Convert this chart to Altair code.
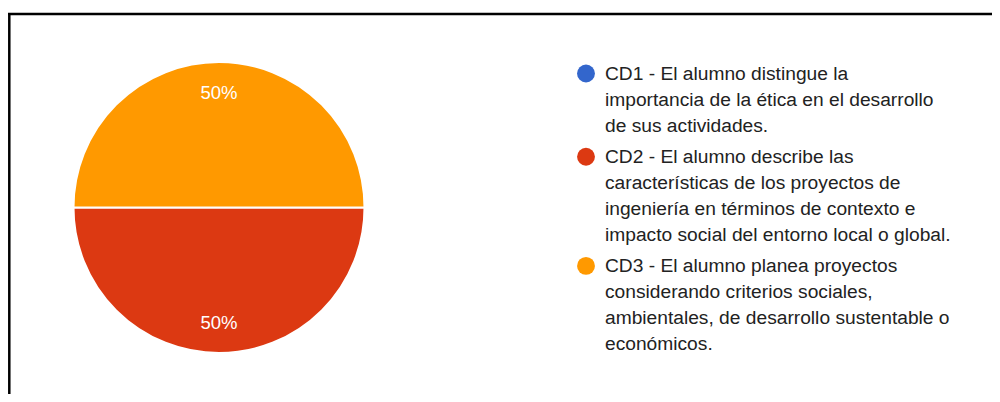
import math
import altair as alt
import pandas as pd

# ---- data ----
categories = ["CD1", "CD2", "CD3"]
percentages = [0, 50, 50]
colors = ["#3366CC", "#DC3912", "#FF9900"]
legend_lines = [
    ["CD1 - El alumno distingue la",
     "importancia de la ética en el desarrollo",
     "de sus actividades."],
    ["CD2 - El alumno describe las",
     "características de los proyectos de",
     "ingeniería en términos de contexto e",
     "impacto social del entorno local o global."],
    ["CD3 - El alumno planea proyectos",
     "considerando criterios sociales,",
     "ambientales, de desarrollo sustentable o",
     "económicos."],
]

# legend slot: cumulative line count plus a small gap between entries
slots = []
acc = 0
for i, lines in enumerate(legend_lines):
    slots.append(acc + i * 0.2)
    acc += len(lines)

df = pd.DataFrame({
    "category": categories,
    "value": percentages,
    "idx": list(range(len(categories))),
    "label": ["\n".join(l) for l in legend_lines],
    "slot": slots,
})

W, H = 984, 386
CX, CY, R = 211, 199.5, 145.5
FONT = "Liberation Sans"

color = alt.Color("category:N", scale=alt.Scale(domain=categories, range=colors), legend=None)
theta = alt.Theta("value:Q", stack=True,
                  scale=alt.Scale(range=[math.pi / 2, math.pi / 2 + 2 * math.pi]))
order = alt.Order("idx:Q", sort="ascending")

base = alt.Chart(df)

pie = base.mark_arc(outerRadius=R, stroke="white", strokeWidth=2).encode(
    theta=theta, color=color, order=order,
    x=alt.value(CX), y=alt.value(CY),
)

pie_labels = base.transform_filter("datum.value > 0").transform_calculate(
    pct="datum.value + '%'"
).mark_text(radius=115, font=FONT, fontSize=18.5, color="white",
            align="center", baseline="middle").encode(
    theta=theta, order=order, text="pct:N",
    x=alt.value(CX), y=alt.value(CY),
)

yscale = alt.Y("slot:Q", axis=None, scale=alt.Scale(domain=[0, 10], range=[71.5, 331.5]))

legend_dots = base.mark_point(filled=True, shape="circle", size=320, opacity=1, yOffset=-6).encode(
    x=alt.value(578), y=yscale, color=color,
)

legend_text = base.mark_text(align="left", baseline="alphabetic", font=FONT, fontSize=19.2,
                             color="#222222", lineBreak="\n", lineHeight=26).encode(
    x=alt.value(597), y=yscale, text="label:N",
)

one = alt.Chart(pd.DataFrame({"b": [0]}))
top_border = one.mark_rule(color="black", strokeWidth=2.5).encode(
    x=alt.value(0), x2=alt.value(W), y=alt.value(6),
)
left_border = one.mark_rule(color="black", strokeWidth=2.5).encode(
    x=alt.value(1.3), y=alt.value(5), y2=alt.value(H),
)

chart = alt.layer(pie, pie_labels, legend_dots, legend_text, top_border, left_border).properties(
    width=W, height=H, padding=0,
    autosize=alt.AutoSizeParams(type="none"),
    background="white",
).configure_view(stroke=None)

chart.save("out.html", embed_options={"renderer": "svg", "actions": False})
